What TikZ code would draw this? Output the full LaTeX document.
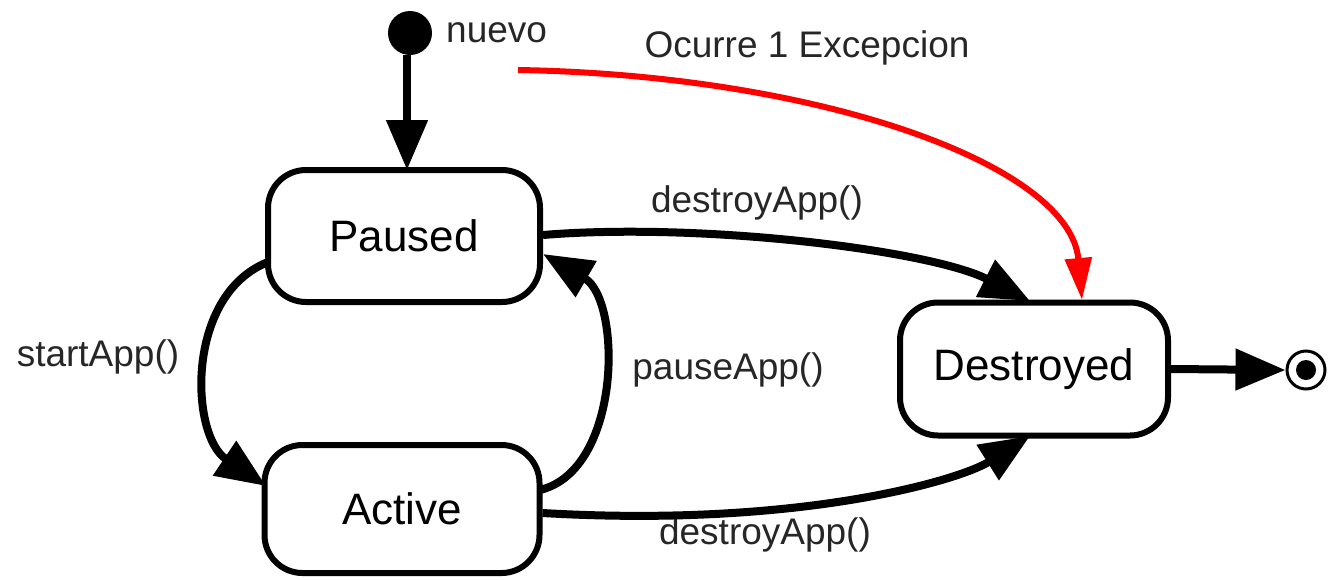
\documentclass[tikz,border=0pt]{standalone}
\usepackage{fontspec}
\setmainfont{Liberation Sans}
\usetikzlibrary{arrows.meta}
\begin{document}
\begin{tikzpicture}[x=1pt,y=-1pt,
  state/.style={draw, line width=6pt, rounded corners=38pt, inner sep=0pt,
    font=\fontsize{44}{50}\selectfont},
  lbl/.style={font=\fontsize{37}{42}\selectfont, inner sep=0pt, text=black!85},
  trans/.style={line width=8pt, -{Triangle[length=50pt,width=40pt]}},
  redtrans/.style={line width=6pt, red, -{Triangle[length=42pt,width=26pt]}}]
\useasboundingbox (0,0) rectangle (1328,579);
\node[state, minimum width=272pt, minimum height=132pt] (paused) at (404,236) {Paused};
\node[state, minimum width=275pt, minimum height=128pt] (active) at (402,509) {Active};
\node[state, minimum width=268pt, minimum height=133pt] (destroyed) at (1034,369) {Destroyed};
\node[circle, fill=black, minimum size=44pt, inner sep=0pt] (init) at (410,33) {};
\node[circle, draw, line width=3pt, minimum size=38pt, inner sep=0pt] (final) at (1306,370) {};
\node[circle, fill=black, minimum size=20pt, inner sep=0pt] (finalin) at (1306,370) {};
\coordinate (redstart) at (518,70);
% labels
\node[lbl, anchor=west] (lnuevo) at (446,33) {nuevo};
\node[lbl] (lexc) at (807,48) {Ocurre 1 Excepcion};
\node[lbl] (ld1) at (757,203) {destroyApp()};
\node[lbl] (ld2) at (765,535) {destroyApp()};
\node[lbl] (lstart) at (98,357) {startApp()};
\node[lbl] (lpause) at (728,370) {pauseApp()};
% connectors
\draw[trans] (init.south -| 407,0) -- (407,170);
\draw[trans] ([yshift=1pt]paused.east) .. controls (700,222) and (930,250) .. (1030,301);
\draw[trans] ([yshift=-4pt]active.east) .. controls (800,528) and (960,480) .. (1030,436);
\draw[redtrans] (redstart) .. controls (820,75) and (1070,165) .. (1082,300);
\draw[trans] (268,262) .. controls (185,295) and (190,435) .. (266,486);
\draw[trans] (540,490) .. controls (622,470) and (622,300) .. (543,254);
\draw[trans] (destroyed.east) -- (final.west);
\end{tikzpicture}
\end{document}
